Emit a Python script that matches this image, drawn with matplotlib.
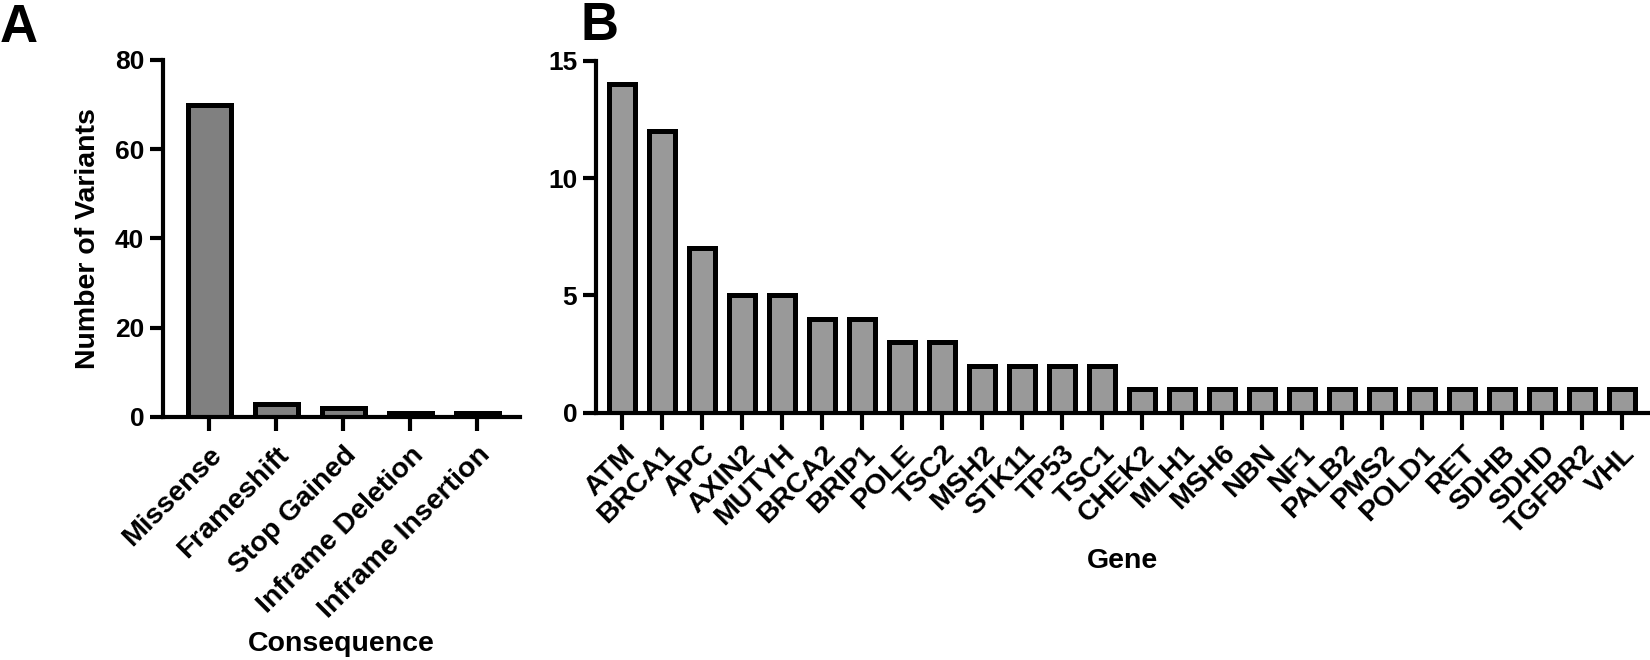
import matplotlib
matplotlib.use("Agg")
import matplotlib.pyplot as plt

plt.rcParams['font.family'] = ['Liberation Sans', 'DejaVu Sans']
plt.rcParams['font.weight'] = 'bold'

# panel A data
consequences = ["Missense", "Frameshift", "Stop Gained", "Inframe Deletion", "Inframe Insertion"]
consequence_counts = [70, 3, 2, 1, 1]

# panel B data
genes = ["ATM", "BRCA1", "APC", "AXIN2", "MUTYH", "BRCA2", "BRIP1", "POLE", "TSC2",
         "MSH2", "STK11", "TP53", "TSC1", "CHEK2", "MLH1", "MSH6", "NBN", "NF1",
         "PALB2", "PMS2", "POLD1", "RET", "SDHB", "SDHD", "TGFBR2", "VHL"]
gene_counts = [14, 12, 7, 5, 5, 4, 4, 3, 3, 2, 2, 2, 2,
               1, 1, 1, 1, 1, 1, 1, 1, 1, 1, 1, 1, 1]

fig = plt.figure(figsize=(16.5, 6.6), dpi=100)
axA = fig.add_axes([0.0988, 0.3682, 0.2164, 0.5409])
axB = fig.add_axes([0.3612, 0.3747, 0.6376, 0.5333])


def style(ax, ticklen):
    for s in ['top', 'right']:
        ax.spines[s].set_visible(False)
    for s in ['left', 'bottom']:
        ax.spines[s].set_linewidth(3)
    ax.tick_params(axis='y', width=3, length=9.5, labelsize=19, pad=4)
    ax.tick_params(axis='x', width=3, length=ticklen, labelsize=20.5, pad=8)


xa = range(len(consequences))
axA.bar(xa, consequence_counts, width=0.64, color='#808080', edgecolor='black', linewidth=3.6)
axA.set_xlim(-0.69, 4.64)
axA.set_ylim(0, 80)
axA.set_yticks([0, 20, 40, 60, 80])
axA.set_xticks(list(xa))
axA.set_xticklabels(consequences, rotation=45, ha='right', rotation_mode='anchor')
style(axA, 10)
axA.set_ylabel("Number of Variants", fontsize=20.5, fontweight='bold', labelpad=10)
axA.set_xlabel("Consequence", fontsize=20.5, fontweight='bold')
axA.xaxis.set_label_coords(0.5, -0.6)

xb = range(len(genes))
axB.bar(xb, gene_counts, width=0.65, color='#999999', edgecolor='black', linewidth=3.6)
axB.set_xlim(-0.65, 25.65)
axB.set_ylim(0, 15)
axB.set_yticks([0, 5, 10, 15])
axB.set_xticks(list(xb))
axB.set_xticklabels(genes, rotation=45, ha='right', rotation_mode='anchor')
style(axB, 12)
axB.set_xlabel("Gene", fontsize=20.5, fontweight='bold')
axB.xaxis.set_label_coords(0.5, -0.385)

fig.text(0.0, 0.995, "A", fontsize=38, fontweight='bold', va='top', ha='left')
fig.text(0.352, 0.998, "B", fontsize=38, fontweight='bold', va='top', ha='left')

fig.savefig("out.png", dpi=100)
